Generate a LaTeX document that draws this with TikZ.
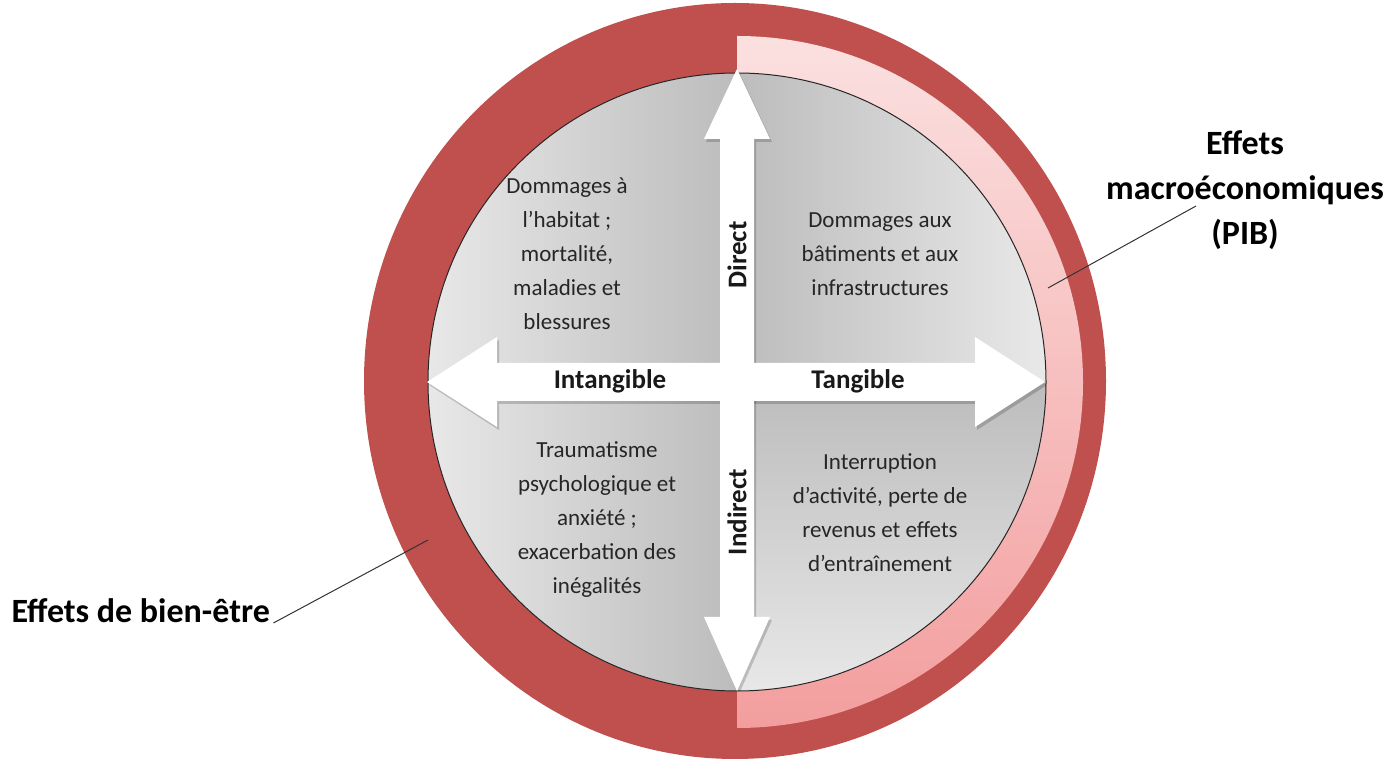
\documentclass[tikz,border=0pt]{standalone}
\usepackage{fontspec}
\setmainfont{Carlito}
\definecolor{ringred}{RGB}{192,80,77}
\definecolor{pinktop}{RGB}{251,224,224}
\definecolor{pinkbot}{RGB}{243,158,158}
\definecolor{qlight}{RGB}{233,233,233}
\definecolor{qdark}{RGB}{188,188,188}
\begin{document}
\begin{tikzpicture}[x=1pt,y=1pt,
  qtext/.style={font=\fontsize{23}{34}\selectfont, align=center, text=black!85},
  albl/.style={font=\fontsize{27}{30}\selectfont\bfseries, text=black!90},
  biglbl/.style={font=\fontsize{34}{45}\selectfont\bfseries, align=center},
  leader/.style={draw=black!80, line width=1pt},
  hpath/.style={insert path={(427,378) -- (497,423) -- (497,397) -- (975,397) -- (975,423) -- (1045,378) -- (975,333) -- (975,359) -- (497,359) -- (497,333) -- cycle}},
  vpath/.style={insert path={(737,691) -- (770,621) -- (754,621) -- (754,143) -- (770,143) -- (737,69) -- (704,143) -- (720,143) -- (720,621) -- (704,621) -- cycle}},
  ]
\useasboundingbox (0,0) rectangle (1395,760);
% outer red ring
\fill[ringred] (735,379) ellipse[x radius=371, y radius=378];
% pink band (right half)
\shade[top color=pinktop, bottom color=pinkbot] (737,724) arc[start angle=90,end angle=-90,radius=346] -- (737,69) arc[start angle=-90,end angle=90,radius=309] -- cycle;
% quadrants
\begin{scope}
  \clip (737,378) circle[radius=309];
  \shade[left color=qlight, right color=qdark] (420,378) rectangle (737,700);
  \shade[left color=qdark, right color=qlight] (737,378) rectangle (1050,700);
  \shade[left color=qlight, right color=qdark] (420,60) rectangle (737,378);
  \shade[top color=qdark, bottom color=qlight] (737,60) rectangle (1050,378);
\end{scope}
\draw[black!85, line width=1pt] (737,378) circle[radius=309];
% arrows
\begin{scope}
  \clip (737,378) circle[radius=309.5];
  \fill[black, opacity=.18, xshift=2, yshift=-3, hpath];
  \fill[black, opacity=.18, xshift=2, yshift=-3, vpath];
\end{scope}
\fill[white, hpath];
\fill[white, vpath];
% arrow labels
\node[albl] (intang) at (610,379) {Intangible};
\node[albl] (tang) at (858,379) {Tangible};
\node[albl, rotate=90] (direct) at (737,505) {Direct};
\node[albl, rotate=90] (indirect) at (737,248) {Indirect};
% quadrant texts
\node[qtext] (tl) at (567,506) {Dommages à\\l'habitat ;\\mortalité,\\maladies et\\blessures};
\node[qtext] (tr) at (880,506) {Dommages aux\\bâtiments et aux\\infrastructures};
\node[qtext] (bl) at (597,240) {Traumatisme\\psychologique et\\anxiété ;\\exacerbation des\\inégalités};
\node[qtext] (br) at (880,247) {Interruption\\d'activité, perte de\\revenus et effets\\d'entraînement};
% outer labels
\node[biglbl, anchor=base west] (bien) at (8,137) {Effets de bien-être};
\coordinate (bienpt) at (428,220);
\draw[leader] (bien.base east) -- (bienpt);
\node[biglbl] (pib) at (1245,570) {Effets\\macroéconomiques\\(PIB)};
\coordinate (pibstart) at (1196,554);
\coordinate (pibpt) at (1048,472);
\draw[leader] (pibstart) -- (pibpt);
\end{tikzpicture}
\end{document}
